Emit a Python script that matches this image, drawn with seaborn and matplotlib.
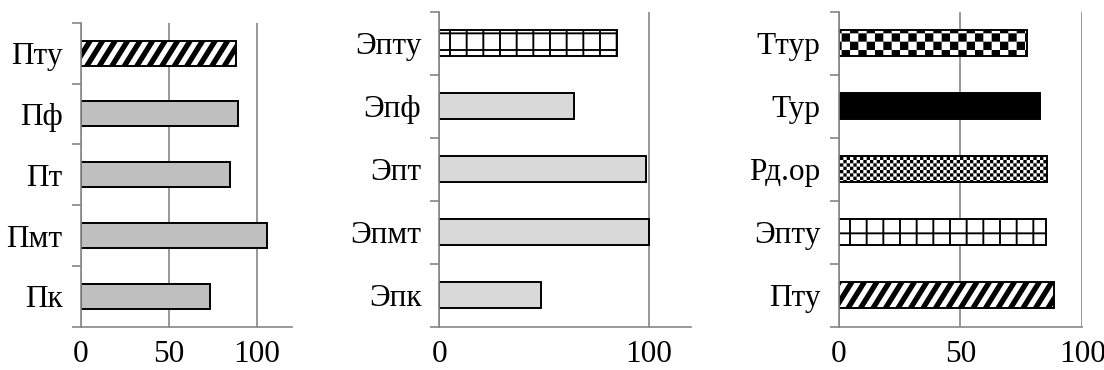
import warnings
warnings.filterwarnings("ignore")
import numpy as np
import matplotlib
matplotlib.use("Agg")
import matplotlib.pyplot as plt
import matplotlib.hatch as mhatch
from matplotlib.path import Path
from matplotlib.ticker import FixedLocator
import seaborn as sns

# ---------------- data ----------------
cats1 = ["Пту", "Пф", "Пт", "Пмт", "Пк"]
vals1 = [88.0, 89.3, 84.8, 105.6, 73.4]
xticks1 = [0, 50, 100]

cats2 = ["Эпту", "Эпф", "Эпт", "Эпмт", "Эпк"]
vals2 = [84.9, 64.5, 98.8, 99.9, 48.4]
xticks2 = [0, 100]

cats3 = ["Ттур", "Тур", "Рд.ор", "Эпту", "Пту"]
vals3 = [77.2, 82.6, 85.6, 85.0, 88.3]
xticks3 = [0, 50, 100]

# ---------------- styles ----------------
fills1 = ["white", "#BFBFBF", "#BFBFBF", "#BFBFBF", "#BFBFBF"]
hatches1 = ["d", None, None, None, None]
fills2 = ["white", "#D9D9D9", "#D9D9D9", "#D9D9D9", "#D9D9D9"]
hatches2 = ["g", None, None, None, None]
fills3 = ["white", "black", "white", "white", "white"]
hatches3 = ["k", None, "q", "g", "d"]


# ---------------- custom filled hatch patterns ----------------
class _PolyHatch(mhatch.HatchPatternBase):
    char = "\0"

    def __init__(self, hatch, density):
        self.polys = self.make_polys() if (hatch and self.char in hatch) else []
        self.num_vertices = 5 * len(self.polys)

    def make_polys(self):
        return []

    def set_vertices_and_codes(self, vertices, codes):
        k = 0
        for poly in self.polys:
            vertices[k:k + 4] = poly
            vertices[k + 4] = poly[0]
            codes[k] = Path.MOVETO
            codes[k + 1:k + 4] = Path.LINETO
            codes[k + 4] = Path.CLOSEPOLY
            k += 5


def _rect(x0, y0, x1, y1):
    return [(x0, y0), (x1, y0), (x1, y1), (x0, y1)]


class _Checker(_PolyHatch):
    char = "k"
    n = 12

    def make_polys(self):
        s = 1.0 / self.n
        return [_rect(i * s, j * s, (i + 1) * s, (j + 1) * s)
                for i in range(self.n) for j in range(self.n) if (i + j) % 2 == 0]


class _FineChecker(_Checker):
    char = "q"
    n = 30


class _Grid(_PolyHatch):
    char = "g"
    n = 6
    t = 0.019

    def make_polys(self):
        s = 1.0 / self.n
        h = self.t / 2
        polys = []
        for i in range(self.n + 1):
            polys.append(_rect(i * s - h, -0.1, i * s + h, 1.1))
        for j in range(self.n + 1):
            for i in range(-1, self.n + 1):
                polys.append(_rect(i * s + h, j * s - h, (i + 1) * s - h, j * s + h))
        return polys


class _Diag(_PolyHatch):
    char = "d"
    n = 8
    shift = 5 / 8
    frac = 0.5

    def make_polys(self):
        s = 1.0 / self.n
        w = s * self.frac
        polys = []
        for k in range(-2 * self.n, self.n + 2):
            c = k * s
            polys.append([(c, 0), (c + w, 0), (c + w + self.shift, 1), (c + self.shift, 1)])
        return polys


mhatch._hatch_types.extend([_Checker, _FineChecker, _Grid, _Diag])

# ---------------- figure ----------------
sns.set_style("white")
plt.rcParams["font.family"] = ["Liberation Serif", "DejaVu Serif"]
plt.rcParams["hatch.linewidth"] = 0.0
plt.rcParams["hatch.color"] = "black"

GRAY = "#868686"
FS = 22.5

fig = plt.figure(figsize=(11.04, 3.70), dpi=100)
ax1 = fig.add_axes([0.0731, 0.117, 0.1914, 0.8216])
ax2 = fig.add_axes([0.3979, 0.117, 0.2277, 0.8514])
ax3 = fig.add_axes([0.7597, 0.117, 0.2206, 0.8514])

panels = [
    (ax1, cats1, vals1, fills1, hatches1, xticks1, 120),
    (ax2, cats2, vals2, fills2, hatches2, xticks2, 120),
    (ax3, cats3, vals3, fills3, hatches3, xticks3, 100),
]

for ax, cats, vals, fills, hatches, xt, xmax in panels:
    sns.barplot(x=vals, y=cats, hue=cats, palette=dict(zip(cats, fills)),
                orient="h", width=0.41, edgecolor="black", linewidth=1.4,
                saturation=1, legend=False, ax=ax)
    for patch, h, fc in zip(ax.patches, hatches, fills):
        patch.set_facecolor(fc)
        patch.set_edgecolor("black")
        if h:
            patch.set_hatch(h)
    ax.set_xlim(0, xmax)
    ax.set_ylim(len(cats) - 0.5, -0.5)
    ax.set_xticks(xt)
    ax.set_xticklabels([str(v) for v in xt])
    ax.set_xlabel("")
    ax.set_ylabel("")
    ax.set_axisbelow(True)
    ax.xaxis.grid(True, color=GRAY, linewidth=1.2)
    ax.yaxis.grid(False)
    for side in ("top", "right"):
        ax.spines[side].set_visible(False)
    for side in ("left", "bottom"):
        ax.spines[side].set_color(GRAY)
        ax.spines[side].set_linewidth(1.2)
    ax.tick_params(axis="x", which="major", length=5, width=1.2, color=GRAY,
                   pad=4.5, labelsize=FS, labelcolor="black")
    ax.tick_params(axis="y", which="major", length=0, pad=13,
                   labelsize=FS, labelcolor="black")
    ax.yaxis.set_minor_locator(FixedLocator(np.arange(-0.5, len(cats), 1.0)))
    ax.tick_params(axis="y", which="minor", length=6.5, width=1.2, color=GRAY,
                   direction="out", left=True)

fig.savefig("out.png", dpi=100)
